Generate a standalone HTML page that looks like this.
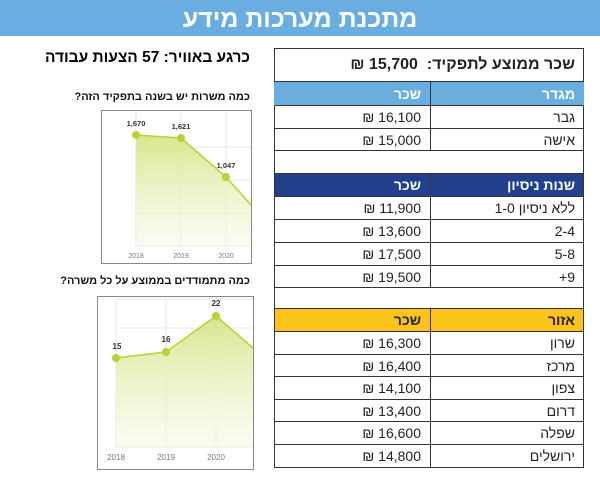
<!DOCTYPE html>
<html><head><meta charset="utf-8"><style>
body{margin:0;width:600px;height:480px;background:#fff;position:relative;overflow:hidden;font-family:"Liberation Sans","Noto Sans CJK SC",sans-serif;}
.bar{position:absolute;left:0;top:0;width:600px;height:36px;background:#6aade0;color:#fff;font-weight:bold;font-size:25px;text-align:center;line-height:38px;}
.r{position:absolute;left:274px;width:310px;box-sizing:border-box;border:1px solid #333;border-top:none;font-size:14px;color:#222;}
.r span{position:absolute;top:0;}
.a{right:8px;}
.b{right:162px;}
.div{position:absolute;left:155px;top:0;bottom:0;border-left:1.5px solid #333;}
.h{font-weight:bold;color:#fff;font-size:14px;}
.q{position:absolute;font-weight:bold;font-size:11px;color:#111;direction:rtl;}
</style></head><body>
<div class="bar" dir="rtl">מתכנת מערכות מידע</div>
<div style="position:absolute;right:350px;top:49px;font-weight:bold;font-size:15.5px;direction:rtl;">כרגע באוויר: 57 הצעות עבודה</div>
<div class="q" style="right:350px;top:91px;">כמה משרות יש בשנה בתפקיד הזה?</div>
<div class="q" style="right:350px;top:275px;">כמה מתמודדים בממוצע על כל משרה?</div>

<svg style="position:absolute;left:0;top:0" width="600" height="480">
<defs><linearGradient id="g" x1="0" y1="0" x2="0" y2="1"><stop offset="0" stop-color="#cfe37a" stop-opacity=".85"/><stop offset="1" stop-color="#f6fae6" stop-opacity=".5"/></linearGradient></defs>
<rect x="101.5" y="110.5" width="150" height="153" fill="#fff" stroke="#888"/>
<g stroke="#e6e6e6"><line x1="136" y1="112" x2="136" y2="247"/><line x1="181" y1="112" x2="181" y2="247"/><line x1="226" y1="112" x2="226" y2="247"/><line x1="136" y1="147" x2="251" y2="147"/><line x1="136" y1="180" x2="251" y2="180"/><line x1="136" y1="213" x2="251" y2="213"/><line x1="136" y1="246" x2="251" y2="246"/></g>
<polygon points="136,135 181,138 226,177 251,205 251,246 136,246" fill="url(#g)"/>
<polyline points="136,135 181,138 226,177 251,205" fill="none" stroke="#b5d334" stroke-width="1.5"/>
<g fill="#b5d334"><circle cx="136" cy="135" r="4"/><circle cx="181" cy="138" r="4"/><circle cx="226" cy="177" r="4"/></g>
<g font-size="7.5" font-weight="bold" fill="#333" text-anchor="middle" font-family="Liberation Sans"><text x="136" y="126">1,670</text><text x="181" y="129">1,621</text><text x="226" y="168">1,047</text></g>
<g font-size="7" fill="#777" text-anchor="middle" font-family="Liberation Sans"><text x="136" y="258">2018</text><text x="181" y="258">2019</text><text x="226" y="258">2020</text></g>

<rect x="97.5" y="296.5" width="156" height="173" fill="#fff" stroke="#888"/>
<g stroke="#e6e6e6"><line x1="116" y1="298" x2="116" y2="448"/><line x1="166" y1="298" x2="166" y2="448"/><line x1="216" y1="298" x2="216" y2="448"/><line x1="116" y1="299" x2="253" y2="299"/><line x1="116" y1="328" x2="253" y2="328"/><line x1="116" y1="388" x2="253" y2="388"/><line x1="116" y1="418" x2="253" y2="418"/><line x1="116" y1="447" x2="253" y2="447"/></g>
<polygon points="116,358 166,352 216,316 253,348 253,447 116,447" fill="url(#g)"/>
<polyline points="116,358 166,352 216,316 253,348" fill="none" stroke="#b5d334" stroke-width="1.5"/>
<g fill="#b5d334"><circle cx="116" cy="358" r="4"/><circle cx="166" cy="352" r="4"/><circle cx="216" cy="316" r="4"/></g>
<g font-size="8" font-weight="bold" fill="#333" text-anchor="middle" font-family="Liberation Sans"><text x="117" y="349">15</text><text x="166" y="342">16</text><text x="216" y="306">22</text></g>
<g font-size="8" fill="#777" text-anchor="middle" font-family="Liberation Sans"><text x="116" y="460">2018</text><text x="166" y="460">2019</text><text x="216" y="460">2020</text></g>
</svg>

<div class="r" style="top:48px;height:34px;border-top:1px solid #333;"><span class="a" style="top:7px;font-weight:bold;font-size:16px;direction:rtl;">שכר ממוצע לתפקיד:&nbsp; 15,700 ₪</span></div>

<div class="r" style="top:82px;height:24px;background:#6aaee0;border-color:#6aaee0;border-bottom:1px solid #333"><div class="div"></div><span class="a h" style="top:4px">מגדר</span><span class="b h" style="top:4px">שכר</span></div>
<div class="r" style="top:106px;height:23px"><div class="div"></div><span class="a" style="top:3px">גבר</span><span class="b" style="top:3px">₪ 16,100</span></div>
<div class="r" style="top:129px;height:22px"><div class="div"></div><span class="a" style="top:3px">אישה</span><span class="b" style="top:3px">₪ 15,000</span></div>
<div class="r" style="top:151px;height:23px"></div>

<div class="r" style="top:174px;height:23px;background:#22408c"><div class="div"></div><span class="a h" style="top:3px">שנות ניסיון</span><span class="b h" style="top:3px">שכר</span></div>
<div class="r" style="top:197px;height:23px"><div class="div"></div><span class="a" style="top:3px;direction:rtl">ללא ניסיון 1-0</span><span class="b" style="top:3px">₪ 11,900</span></div>
<div class="r" style="top:220px;height:23px"><div class="div"></div><span class="a" style="top:3px">2-4</span><span class="b" style="top:3px">₪ 13,600</span></div>
<div class="r" style="top:243px;height:23px"><div class="div"></div><span class="a" style="top:3px">5-8</span><span class="b" style="top:3px">₪ 17,500</span></div>
<div class="r" style="top:266px;height:22px"><div class="div"></div><span class="a" style="top:3px">+9</span><span class="b" style="top:3px">₪ 19,500</span></div>
<div class="r" style="top:288px;height:21px"></div>

<div class="r" style="top:309px;height:23px;background:#fcc21e"><div class="div"></div><span class="a" style="top:3px;font-weight:bold">אזור</span><span class="b" style="top:3px;font-weight:bold">שכר</span></div>
<div class="r" style="top:332px;height:23px"><div class="div"></div><span class="a" style="top:3px">שרון</span><span class="b" style="top:3px">₪ 16,300</span></div>
<div class="r" style="top:355px;height:22px"><div class="div"></div><span class="a" style="top:3px">מרכז</span><span class="b" style="top:3px">₪ 16,400</span></div>
<div class="r" style="top:377px;height:23px"><div class="div"></div><span class="a" style="top:3px">צפון</span><span class="b" style="top:3px">₪ 14,100</span></div>
<div class="r" style="top:400px;height:22px"><div class="div"></div><span class="a" style="top:3px">דרום</span><span class="b" style="top:3px">₪ 13,400</span></div>
<div class="r" style="top:422px;height:23px"><div class="div"></div><span class="a" style="top:3px">שפלה</span><span class="b" style="top:3px">₪ 16,600</span></div>
<div class="r" style="top:445px;height:23px"><div class="div"></div><span class="a" style="top:3px">ירושלים</span><span class="b" style="top:3px">₪ 14,800</span></div>
</body></html>
